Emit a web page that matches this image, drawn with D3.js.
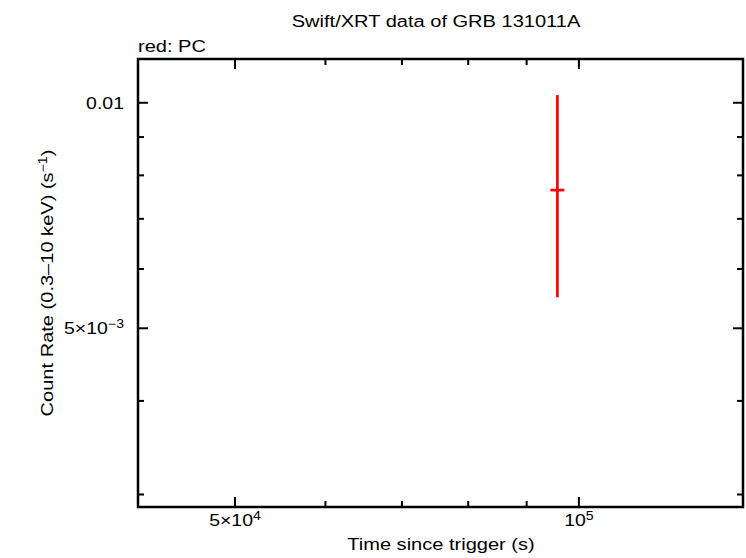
<!DOCTYPE html>
<html>
<head>
<meta charset="utf-8">
<script src="https://cdn.jsdelivr.net/npm/d3@7"></script>
<style>
  body { margin: 0; background: #fff; }
  text { font-family: "Liberation Sans", Arial, sans-serif; fill: #000; }
</style>
</head>
<body>
<div id="chart"></div>
<script>
// Swift/XRT light curve, one PC point

const times = [95760];
const timeLo = [94420];
const timeHi = [97120];
const rates = [0.007646];
const rateLo = [0.0055];
const rateHi = [0.01024];

const xMajor = [5e4, 1e5];
const xMajorLabels = [["5\u00d710", "4"], ["10", "5"]];
const xMinor = [6e4, 7e4, 8e4, 9e4];
const yMajor = [0.01, 0.005];
const yMajorLabels = [["0.01", ""], ["5\u00d710", "\u22123"]];
const yMinor = [0.009, 0.008, 0.007, 0.006, 0.004, 0.003];

const W = 746, H = 558;
const m = { left: 138, right: 3, top: 59, bottom: 51 };
const stretch = 1.18; // gnuplot glyphs are wider than Arial

const svg = d3.select('#chart').append('svg')
  .attr('width', W).attr('height', H);

const x = d3.scaleLog().domain([41120, 139200]).range([m.left, W - m.right]);
const y = d3.scaleLog().domain([0.002887, 0.01144]).range([H - m.bottom, m.top]);

const x0 = m.left, x1 = W - m.right, y0 = H - m.bottom, y1 = m.top;

// ticks on all four sides, pointing inward
const tickG = svg.append('g').attr('stroke', '#000').attr('stroke-width', 2);
const major = 10, minor = 6;

const xt = (vals, len) => {
  vals.forEach(v => {
    tickG.append('line').attr('x1', x(v)).attr('x2', x(v)).attr('y1', y0).attr('y2', y0 - len);
    tickG.append('line').attr('x1', x(v)).attr('x2', x(v)).attr('y1', y1).attr('y2', y1 + len);
  });
};
const yt = (vals, len) => {
  vals.forEach(v => {
    tickG.append('line').attr('y1', y(v)).attr('y2', y(v)).attr('x1', x0).attr('x2', x0 + len);
    tickG.append('line').attr('y1', y(v)).attr('y2', y(v)).attr('x1', x1).attr('x2', x1 - len);
  });
};
xt(xMajor, major); xt(xMinor, minor);
yt(yMajor, major); yt(yMinor, minor);

// frame
svg.append('rect')
  .attr('x', x0).attr('y', y1)
  .attr('width', x1 - x0).attr('height', y0 - y1)
  .attr('fill', 'none').attr('stroke', '#000').attr('stroke-width', 2.5);

// text placed at (tx, ty), stretched along its own direction
const label = (tx, ty, anchor, size, rot) => {
  return svg.append('g')
    .attr('transform', `translate(${tx}, ${ty})` + (rot ? ` rotate(${rot})` : '') + ` scale(${stretch}, 1)`)
    .append('text')
    .attr('text-anchor', anchor).attr('font-size', size);
};

const supLabel = (sel, parts) => {
  sel.append('tspan').text(parts[0]);
  if (parts[1]) {
    sel.append('tspan').attr('dy', -6.5).attr('font-size', 12).text(parts[1]);
  }
};

xMajor.forEach((v, i) => {
  label(x(v), 526, 'middle', 16.5).call(supLabel, xMajorLabels[i]);
});

yMajor.forEach((v, i) => {
  label(124, y(v) + 6, 'end', 16.5).call(supLabel, yMajorLabels[i]);
});

// titles
label(436, 27, 'middle', 17).text('Swift/XRT data of GRB 131011A');
label(138, 52, 'start', 17).text('red: PC');
label(441, 550, 'middle', 17).text('Time since trigger (s)');

const yl = label(53, 283, 'middle', 17, -90);
yl.append('tspan').text('Count Rate (0.3\u201310 keV) (s');
yl.append('tspan').attr('dy', -6.5).attr('font-size', 12).text('\u22121');
yl.append('tspan').attr('dy', 6.5).text(')');

// data: error bars
const pts = times.map((t, i) => ({ t, lo: timeLo[i], hi: timeHi[i], r: rates[i], rlo: rateLo[i], rhi: rateHi[i] }));

const dg = svg.append('g').attr('stroke', '#ff0000').attr('stroke-width', 2.7);
dg.selectAll('line.v').data(pts).enter().append('line')
  .attr('class', 'v')
  .attr('x1', d => x(d.t)).attr('x2', d => x(d.t))
  .attr('y1', d => y(d.rlo)).attr('y2', d => y(d.rhi));
dg.selectAll('line.h').data(pts).enter().append('line')
  .attr('class', 'h')
  .attr('x1', d => x(d.lo)).attr('x2', d => x(d.hi))
  .attr('y1', d => y(d.r)).attr('y2', d => y(d.r));
</script>
</body>
</html>
